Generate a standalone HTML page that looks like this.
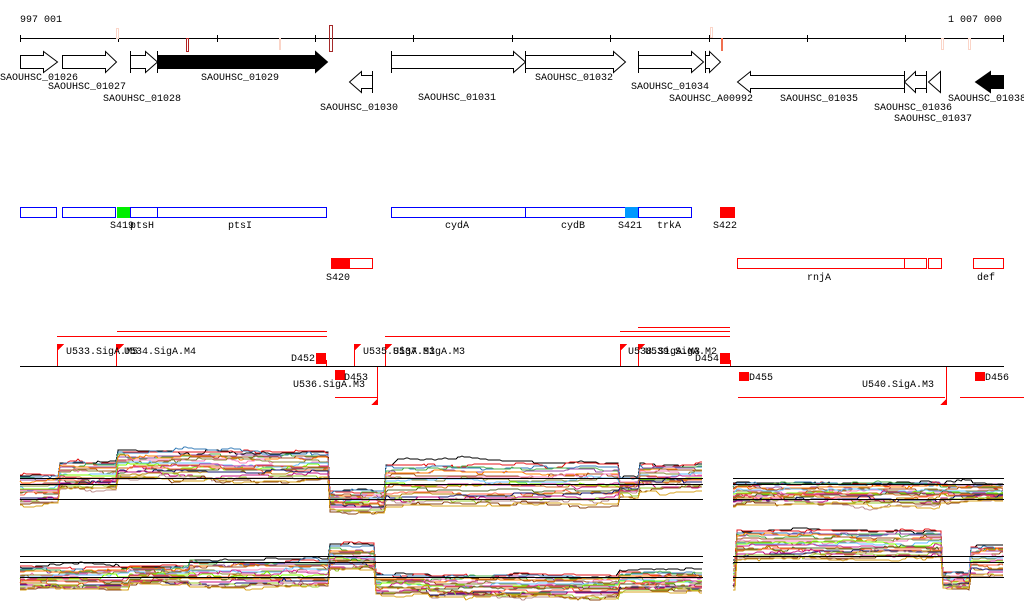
<!DOCTYPE html>
<html><head><meta charset="utf-8"><style>
html,body{margin:0;padding:0;background:#fff;}
svg{display:block}
text{font-family:"Liberation Mono",monospace;font-size:10px;fill:#000}
</style></head><body>
<svg id="s" width="1024" height="611" viewBox="0 0 1024 611" xmlns="http://www.w3.org/2000/svg" shape-rendering="crispEdges">
<rect width="1024" height="611" fill="#fff"/>
<text x="20" y="22">997 001</text>
<text x="948" y="22">1 007 000</text>
<line x1="20" y1="38.5" x2="1004" y2="38.5" stroke="#000"/>
<g stroke="#000">
<line x1="20.5" y1="35" x2="20.5" y2="42"/><line x1="118.5" y1="35" x2="118.5" y2="42"/><line x1="217.5" y1="35" x2="217.5" y2="42"/><line x1="315.5" y1="35" x2="315.5" y2="42"/><line x1="413.5" y1="35" x2="413.5" y2="42"/><line x1="512.5" y1="35" x2="512.5" y2="42"/><line x1="610.5" y1="35" x2="610.5" y2="42"/><line x1="709.5" y1="35" x2="709.5" y2="42"/><line x1="807.5" y1="35" x2="807.5" y2="42"/><line x1="905.5" y1="35" x2="905.5" y2="42"/><line x1="1003.5" y1="35" x2="1003.5" y2="42"/>
</g>
<rect x="116.5" y="28.5" width="2" height="10" fill="none" stroke="#fbd5c8"/>
<rect x="279" y="38" width="2" height="12" fill="#fbd5c8"/>
<rect x="186.5" y="38.5" width="2" height="13" fill="none" stroke="#b22222"/>
<rect x="329.5" y="25.5" width="3" height="26" fill="none" stroke="#a52a2a"/>
<rect x="710.5" y="27.5" width="2" height="10" fill="none" stroke="#fbd5c8"/>
<rect x="721" y="38" width="2" height="13" fill="#f07050"/>
<rect x="941.5" y="38.5" width="2" height="11" fill="none" stroke="#fbd5c8"/>
<rect x="968.5" y="38.5" width="2" height="11" fill="none" stroke="#fbd5c8"/>
<g stroke="#000" fill="#fff" shape-rendering="auto">
<polygon points="20.5,55.5 43.5,55.5 43.5,51.5 57.5,62 43.5,72.5 43.5,68.5 20.5,68.5"/>
<polygon points="62.5,55.5 105.5,55.5 105.5,51.5 116.5,62 105.5,72.5 105.5,68.5 62.5,68.5"/>
<polygon points="130.5,55.5 145.5,55.5 145.5,51.5 157.5,62 145.5,72.5 145.5,68.5 130.5,68.5"/>
<line x1="130.5" y1="51" x2="130.5" y2="73"/>
<polygon points="157.5,55.5 315.5,55.5 315.5,51.5 327.5,62 315.5,72.5 315.5,68.5 157.5,68.5" fill="#000"/>
<line x1="157.5" y1="51" x2="157.5" y2="73"/>
<polygon points="372.5,75.5 361.5,75.5 361.5,71.5 349.5,82 361.5,92.5 361.5,88.5 372.5,88.5"/>
<line x1="372.5" y1="71" x2="372.5" y2="93"/>
<polygon points="391.5,55.5 513.5,55.5 513.5,51.5 525.5,62 513.5,72.5 513.5,68.5 391.5,68.5"/>
<line x1="391.5" y1="51" x2="391.5" y2="73"/>
<polygon points="525.5,55.5 613.5,55.5 613.5,51.5 625.5,62 613.5,72.5 613.5,68.5 525.5,68.5"/>
<line x1="525.5" y1="51" x2="525.5" y2="73"/>
<polygon points="638.5,55.5 691.5,55.5 691.5,51.5 703.5,62 691.5,72.5 691.5,68.5 638.5,68.5"/>
<line x1="638.5" y1="51" x2="638.5" y2="73"/>
<polygon points="705.5,55.5 709.5,55.5 709.5,51.5 720.5,62 709.5,72.5 709.5,68.5 705.5,68.5"/>
<line x1="705.5" y1="51" x2="705.5" y2="73"/>
<polygon points="904.5,75.5 750.5,75.5 750.5,71.5 737.5,82 750.5,92.5 750.5,88.5 904.5,88.5"/>
<line x1="904.5" y1="71" x2="904.5" y2="93"/>
<polygon points="926.5,75.5 915.5,75.5 915.5,71.5 904.5,82 915.5,92.5 915.5,88.5 926.5,88.5"/>
<line x1="926.5" y1="71" x2="926.5" y2="93"/>
<polygon points="940.5,71.5 928.5,82 940.5,92.5"/>
<polygon points="1003.5,75.5 990.5,75.5 990.5,71.5 975.5,82 990.5,92.5 990.5,88.5 1003.5,88.5" fill="#000"/>
</g>
<text x="0" y="80">SAOUHSC_01026</text>
<text x="48" y="89">SAOUHSC_01027</text>
<text x="103" y="101">SAOUHSC_01028</text>
<text x="201" y="80">SAOUHSC_01029</text>
<text x="320" y="110">SAOUHSC_01030</text>
<text x="418" y="100">SAOUHSC_01031</text>
<text x="535" y="80">SAOUHSC_01032</text>
<text x="631" y="89">SAOUHSC_01034</text>
<text x="669" y="101">SAOUHSC_A00992</text>
<text x="780" y="101">SAOUHSC_01035</text>
<text x="874" y="110">SAOUHSC_01036</text>
<text x="894" y="121">SAOUHSC_01037</text>
<text x="948" y="101">SAOUHSC_01038</text>
<g fill="none" stroke="#0000ff">
<rect x="20.5" y="207.5" width="36" height="10"/>
<rect x="62.5" y="207.5" width="53" height="10"/>
<rect x="130.5" y="207.5" width="27" height="10"/>
<rect x="157.5" y="207.5" width="169" height="10"/>
<rect x="391.5" y="207.5" width="134" height="10"/>
<rect x="525.5" y="207.5" width="100" height="10"/>
<rect x="638.5" y="207.5" width="53" height="10"/>
</g>
<rect x="117" y="207" width="13" height="11" fill="#00ee00"/>
<rect x="625" y="207" width="13" height="11" fill="#0099ff"/>
<rect x="720" y="207" width="15" height="11" fill="#ff0000"/>
<text x="110" y="228">S419</text><text x="130" y="228">ptsH</text>
<text x="228" y="228">ptsI</text><text x="445" y="228">cydA</text>
<text x="561" y="228">cydB</text><text x="618" y="228">S421</text>
<text x="657" y="228">trkA</text><text x="713" y="228">S422</text>
<rect x="331" y="258" width="19" height="11" fill="#ff0000"/>
<g fill="none" stroke="#ff0000">
<rect x="331.5" y="258.5" width="41" height="10"/>
<rect x="737.5" y="258.5" width="167" height="10"/>
<rect x="904.5" y="258.5" width="22" height="10"/>
<rect x="928.5" y="258.5" width="13" height="10"/>
<rect x="973.5" y="258.5" width="30" height="10"/>
</g>
<text x="326" y="280">S420</text><text x="807" y="280">rnjA</text><text x="977" y="280">def</text>
<g stroke="#ff0000">
<line x1="117" y1="331.5" x2="327" y2="331.5"/>
<line x1="57" y1="336.5" x2="327" y2="336.5"/>
<line x1="385" y1="336.5" x2="730" y2="336.5"/>
<line x1="620" y1="331.5" x2="730" y2="331.5"/>
<line x1="638" y1="327.5" x2="730" y2="327.5"/>
<line x1="335" y1="397.5" x2="377" y2="397.5"/>
<line x1="738" y1="397.5" x2="945" y2="397.5"/>
<line x1="960" y1="397.5" x2="1024" y2="397.5"/>
<line x1="57.5" y1="344" x2="57.5" y2="366"/>
<line x1="116.5" y1="344" x2="116.5" y2="366"/>
<line x1="354.5" y1="344" x2="354.5" y2="366"/>
<line x1="385.5" y1="344" x2="385.5" y2="366"/>
<line x1="620.5" y1="344" x2="620.5" y2="366"/>
<line x1="638.5" y1="344" x2="638.5" y2="366"/>
<line x1="377.5" y1="366" x2="377.5" y2="405"/>
<line x1="946.5" y1="366" x2="946.5" y2="405"/>
<line x1="326.5" y1="360" x2="326.5" y2="366"/>
<line x1="730.5" y1="360" x2="730.5" y2="366"/>
</g>
<line x1="20" y1="366.5" x2="1004" y2="366.5" stroke="#000"/>
<g fill="#ff0000">
<polygon points="57,344 64,344 57,351"/><polygon points="117,344 124,344 117,351"/>
<polygon points="354,344 361,344 354,351"/><polygon points="385,344 392,344 385,351"/>
<polygon points="620,344 627,344 620,351"/><polygon points="638,344 645,344 638,351"/>
<polygon points="378,398 378,405 371,405"/><polygon points="947,398 947,405 940,405"/>
<rect x="316" y="353" width="10" height="11"/><rect x="335" y="370" width="10" height="10"/>
<rect x="720" y="353" width="10" height="11"/><rect x="739" y="372" width="10" height="9"/>
<rect x="975" y="372" width="10" height="9"/>
</g>
<text x="66" y="354">U533.SigA.M5</text><text x="124" y="354">U534.SigA.M4</text>
<text x="291" y="361">D452</text><text x="344" y="380">D453</text>
<text x="293" y="387">U536.SigA.M3</text>
<text x="363" y="354">U535.SigA.M3</text><text x="393" y="354">U537.SigA.M3</text>
<text x="628" y="354">U538.SigA.M3</text><text x="645" y="354">U539.SigA.M2</text>
<text x="695" y="361">D454</text><text x="749" y="380">D455</text>
<text x="862" y="387">U540.SigA.M3</text><text x="985" y="380">D456</text>
<g id="plots"></g>
<g stroke="#000">
<line x1="20" y1="478.5" x2="703" y2="478.5"/><line x1="20" y1="484.5" x2="703" y2="484.5"/><line x1="20" y1="499.5" x2="703" y2="499.5"/>
<line x1="733" y1="478.5" x2="1004" y2="478.5"/><line x1="733" y1="484.5" x2="1004" y2="484.5"/><line x1="733" y1="499.5" x2="1004" y2="499.5"/>
<line x1="20" y1="556.5" x2="703" y2="556.5"/><line x1="20" y1="562.5" x2="703" y2="562.5"/><line x1="20" y1="577.5" x2="703" y2="577.5"/>
<line x1="733" y1="556.5" x2="1004" y2="556.5"/><line x1="733" y1="562.5" x2="1004" y2="562.5"/><line x1="733" y1="577.5" x2="1004" y2="577.5"/>
</g>
</svg>
<script>
(function(){
var seed=7;function r(){seed=(seed*16807)%2147483647;return seed/2147483647;}
var cols=["#000000","#e41a1c","#377eb8","#4daf4a","#984ea3","#ff7f00","#a65628","#f781bf","#8b8b3a","#66c2ff","#7fff00","#cd2990","#d2691e","#556b2f","#ff6347","#b8860b","#191970","#c71585","#9acd32","#bc8f8f","#8b4513","#daa520"];
function plot(segs,x0,x1){
 var out="",N=cols.length;
 for(var i=0;i<N;i++){
  var f=i/(N-1), n=0, pts=[];
  for(var x=x0;x<=x1;x+=2){
   var s=segs[0];for(var k=0;k<segs.length;k++){if(x>=segs[k][0])s=segs[k];}
   if(r()<0.15)n+=(r()-0.5)*5; n*=0.95;
   var y=s[2]+f*(s[3]-s[2])+n;
   pts.push(x+","+Math.round(y));
  }
  out+='<polyline fill="none" stroke-width="1" stroke="'+cols[i]+'" points="'+pts.join(" ")+'"/>';
 }
 return out;
}
var h="";
h+=plot([[20,0,474,505],[60,0,462,490],[118,0,451,480],[330,0,490,512],[385,0,463,506],[620,0,478,496],[640,0,464,490]],20,703);
h+=plot([[733,0,483,507],[737,0,482,505],[940,0,485,500]],733,1004);
h+=plot([[20,0,567,590],[130,0,566,585],[190,0,560,588],[330,0,545,571],[375,0,574,595],[430,0,575,598],[620,0,572,592]],20,703);
h+=plot([[733,0,560,590],[737,0,530,560],[943,0,572,590],[970,0,545,578]],733,1004);
document.getElementById("plots").innerHTML=h;
})();
</script>
</body></html>
